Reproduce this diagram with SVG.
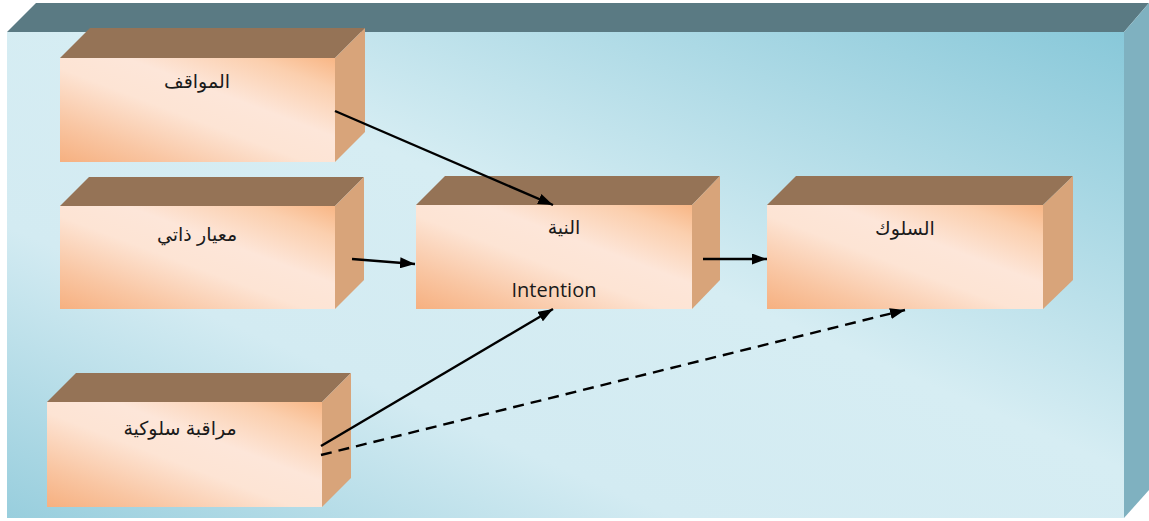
<svg xmlns="http://www.w3.org/2000/svg" width="1149" height="521" viewBox="0 0 1149 521">
  <style>
    .top { fill: #957356; }
    .side { fill: #d8a47a; }
    .front { fill: url(#peach); }
    .ar { font-family: "Liberation Sans", "DejaVu Sans", sans-serif; font-size: 19px; fill: #1a1a1a; text-anchor: middle; }
    .en { font-family: "Open Sans", "Noto Sans", sans-serif; font-size: 20px; fill: #1a1a1a; text-anchor: middle; }
    .link { stroke: #000; stroke-width: 2.4; fill: none; marker-end: url(#head); }
    .dash { stroke-dasharray: 11 7; }
  </style>
  <defs>
    <linearGradient id="peach" x1="0" y1="1" x2="1" y2="0">
      <stop offset="0" stop-color="#f6b080"/>
      <stop offset="0.2" stop-color="#f9c6a3"/>
      <stop offset="0.45" stop-color="#fde4d4"/>
      <stop offset="0.62" stop-color="#fde6d9"/>
      <stop offset="0.85" stop-color="#fbcfae"/>
      <stop offset="1" stop-color="#f8b685"/>
    </linearGradient>
    <linearGradient id="sky" x1="0" y1="1" x2="1" y2="0">
      <stop offset="0" stop-color="#98cedd"/>
      <stop offset="0.3" stop-color="#d3ebf2"/>
      <stop offset="0.55" stop-color="#d6edf3"/>
      <stop offset="1" stop-color="#88c8d9"/>
    </linearGradient>
    <marker id="head" viewBox="0 0 15 11" refX="15" refY="5.5" markerWidth="15" markerHeight="11" markerUnits="userSpaceOnUse" orient="auto">
      <path d="M0 0 L15 5.5 L0 11 Z" fill="#000"/>
    </marker>
  </defs>

  <rect width="1149" height="521" fill="#ffffff"/>

  <!-- background slab -->
  <g id="panel">
    <polygon points="7,32 36,3 1149,3 1124,32" fill="#5a7a83"/>
    <polygon points="1124,32 1149,3 1149,490 1124,518" fill="#7fb1c0"/>
    <rect x="7" y="32" width="1117" height="486" fill="url(#sky)"/>
  </g>

  <g id="attitudes">
    <polygon class="top" points="60,58 90,28 365,28 335,58"/>
    <polygon class="side" points="335,58 365,28 365,132 335,162"/>
    <rect class="front" x="60" y="58" width="275" height="104"/>
    <text class="ar" x="197" y="88">المواقف</text>
  </g>

  <g id="norm">
    <polygon class="top" points="60,206 89,177 364,177 335,206"/>
    <polygon class="side" points="335,206 364,177 364,280 335,309"/>
    <rect class="front" x="60" y="206" width="275" height="103"/>
    <text class="ar" x="197" y="241">معيار ذاتي</text>
  </g>

  <g id="intention">
    <polygon class="top" points="416,205 445,176 720,176 692,205"/>
    <polygon class="side" points="692,205 720,176 720,280 692,309"/>
    <rect class="front" x="416" y="205" width="276" height="104"/>
    <text class="ar" x="564" y="234">النية</text>
    <text class="en" x="554" y="297">Intention</text>
  </g>

  <g id="behavior">
    <polygon class="top" points="767,205 796,176 1073,176 1043,205"/>
    <polygon class="side" points="1043,205 1073,176 1073,280 1043,309"/>
    <rect class="front" x="767" y="205" width="276" height="104"/>
    <text class="ar" x="905" y="235">السلوك</text>
  </g>

  <g id="control">
    <polygon class="top" points="47,402 76,373 351,373 322,402"/>
    <polygon class="side" points="322,402 351,373 351,478 322,507"/>
    <rect class="front" x="47" y="402" width="275" height="105"/>
    <text class="ar" x="180" y="435">مراقبة سلوكية</text>
  </g>

  <g id="connectors">
    <line class="link" x1="335" y1="111" x2="553" y2="205"/>
    <line class="link" x1="352" y1="259" x2="415" y2="264"/>
    <line class="link" x1="703" y1="259" x2="767" y2="259"/>
    <line class="link" x1="321" y1="446" x2="553" y2="309"/>
    <line class="link dash" x1="321" y1="455" x2="905" y2="310"/>
  </g>
</svg>
